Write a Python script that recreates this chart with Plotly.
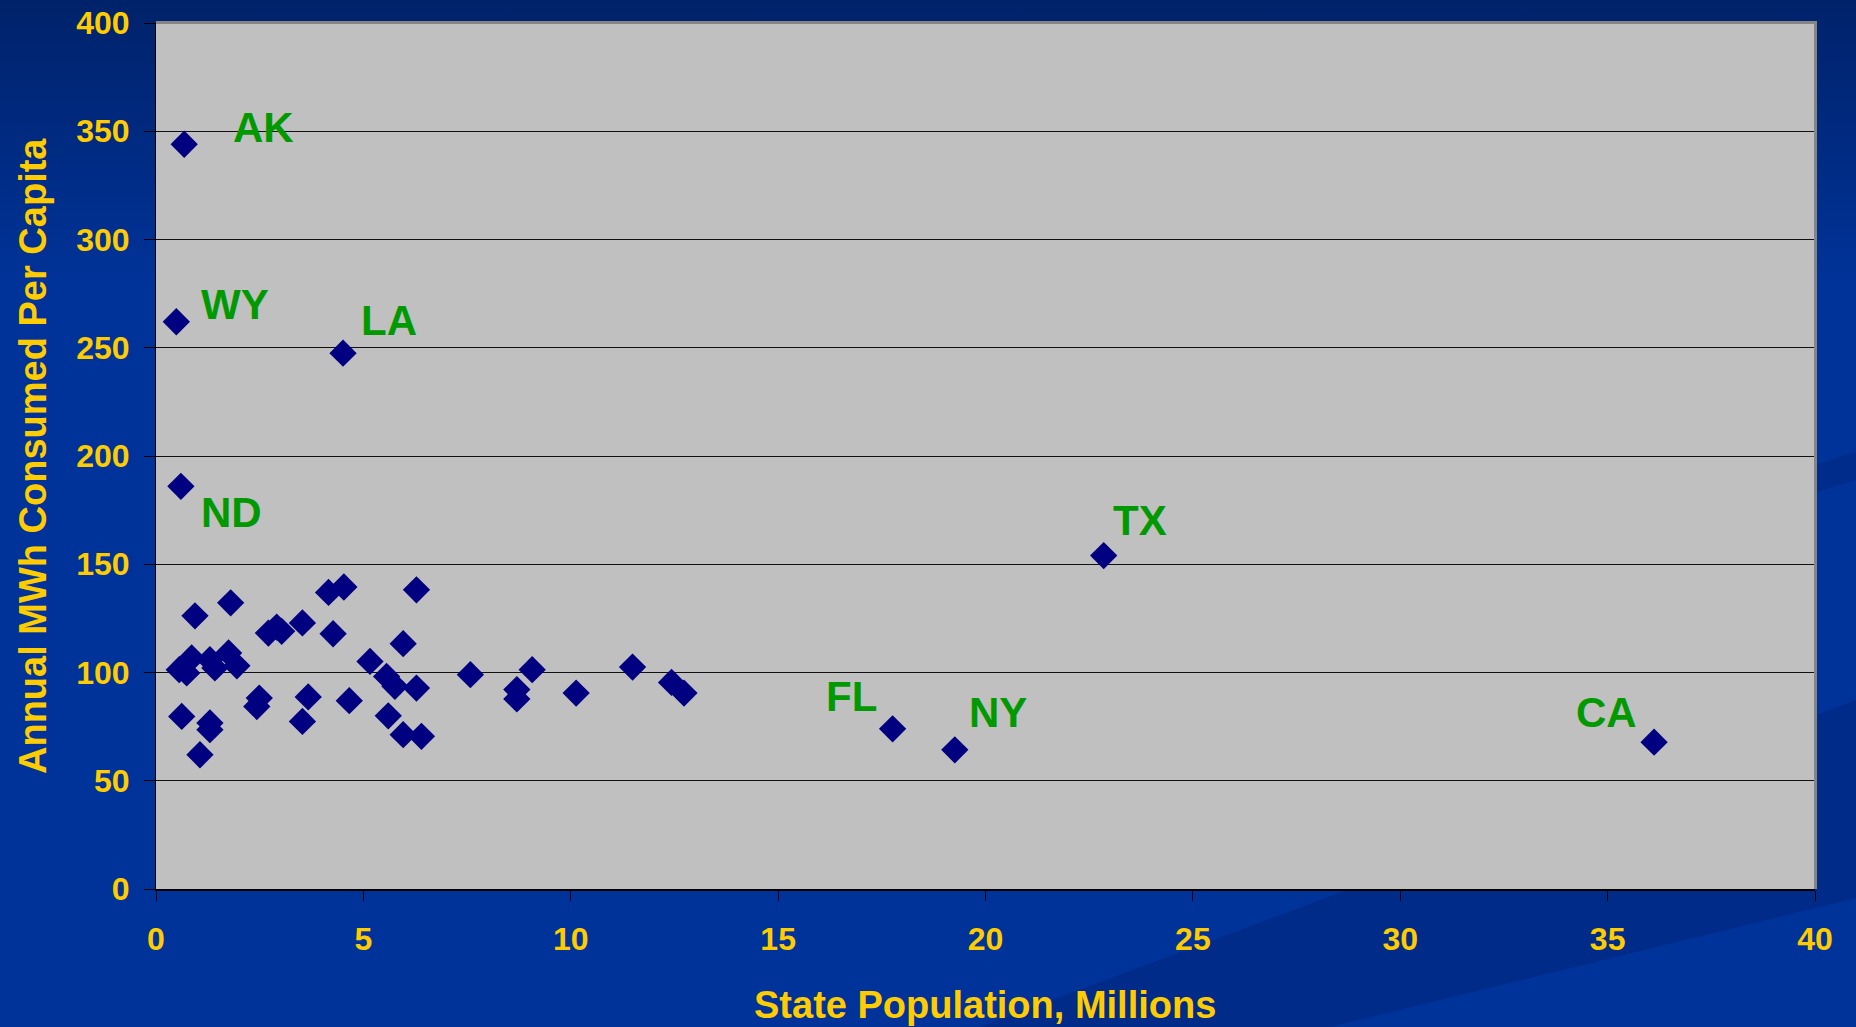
import base64
import plotly.graph_objects as go

# ---- data ----
labeled_states = ["AK", "WY", "LA", "ND", "TX", "FL", "NY", "CA"]
labeled_pop = [0.68, 0.49, 4.51, 0.60, 22.85, 17.76, 19.26, 36.12]
labeled_mwh = [344.0, 262.0, 247.5, 186.0, 154.0, 74.0, 64.3, 67.8]
label_x = [2.60, 1.91, 5.62, 1.83, 23.72, 16.76, 20.31, 34.98]
label_y = [351.6, 270.0, 262.8, 173.8, 170.3, 89.1, 81.7, 81.4]

other_pop = [0.94, 1.80, 0.56, 0.86, 0.74, 1.30, 1.42, 1.75, 1.95, 0.62,
             1.30, 1.30, 1.06, 2.71, 2.91, 3.03, 3.53, 4.16, 4.53, 4.27,
             2.49, 2.43, 3.67, 3.53, 4.66, 5.16, 6.28, 5.96, 5.56, 5.76,
             6.28, 5.60, 5.96, 6.40, 7.58, 8.70, 8.70, 9.07, 10.13, 11.49,
             12.43, 12.73]
other_mwh = [126.2, 132.2, 101.3, 106.7, 99.8, 105.9, 102.1, 109.0, 103.1, 79.7,
             76.7, 73.6, 62.0, 118.2, 121.0, 119.0, 122.9, 137.0, 139.5, 117.9,
             88.2, 84.3, 88.7, 77.4, 87.0, 105.1, 138.2, 113.3, 98.2, 93.6,
             92.8, 80.0, 71.3, 70.5, 99.0, 92.1, 87.8, 101.3, 90.5, 102.5,
             95.4, 90.5]

x_ticks = [0, 5, 10, 15, 20, 25, 30, 35, 40]
y_ticks = [0, 50, 100, 150, 200, 250, 300, 350, 400]

# ---- layout geometry ----
W, H = 1856, 1027
ML, MR, MT, MB = 156, 41, 23, 138
PW, PH = W - ML - MR, H - MT - MB

FONT = "Liberation Sans, Arial, sans-serif"
YELLOW = "#FFCC00"
GREEN = "#009900"
NAVY = "#000080"

# background svg (gradient + diagonal stripes)
svg = f'''<svg xmlns="http://www.w3.org/2000/svg" width="{W}" height="{H}" viewBox="0 0 {W} {H}" preserveAspectRatio="none">
<defs><linearGradient id="g" x1="0" y1="0" x2="0" y2="1">
<stop offset="0" stop-color="#00226A"/><stop offset="0.28" stop-color="#003399"/><stop offset="1" stop-color="#003399"/>
</linearGradient></defs>
<rect width="{W}" height="{H}" fill="url(#g)"/>
<polygon points="980,1027 1856,700 1856,898 1330,1027" fill="#002A84" fill-opacity="0.75"/>
<polygon points="1500,560 1856,452 1856,480 1500,590" fill="#002A84" fill-opacity="0.7"/>
</svg>'''
svg_uri = "data:image/svg+xml;base64," + base64.b64encode(svg.encode()).decode()

fig = go.Figure()
fig.add_trace(go.Scatter(
    x=labeled_pop + other_pop, y=labeled_mwh + other_mwh,
    mode="markers",
    marker=dict(symbol="diamond", size=21, color=NAVY, line=dict(width=0)),
    showlegend=False, hoverinfo="x+y"))

annotations = []
for s, lx, ly in zip(labeled_states, label_x, label_y):
    annotations.append(dict(x=lx, y=ly, xref="x", yref="y", text=s, showarrow=False,
                            font=dict(family=FONT, size=42, color=GREEN, weight="bold"),
                            xanchor="center", yanchor="middle"))
annotations.append(dict(x=(985 - ML) / PW, y=-(1005 - MT - PH) / PH, xref="paper", yref="paper",
                        text="State Population, Millions", showarrow=False,
                        font=dict(family=FONT, size=38, color=YELLOW, weight="bold"),
                        xanchor="center", yanchor="middle"))
annotations.append(dict(x=-(ML - 33) / PW, y=1 - (456 - MT) / PH, xref="paper", yref="paper",
                        text="Annual MWh Consumed Per Capita", showarrow=False, textangle=-90,
                        font=dict(family=FONT, size=38, color=YELLOW, weight="bold"),
                        xanchor="center", yanchor="middle"))

shapes = [
    dict(type="rect", xref="paper", yref="paper", x0=0, x1=1, y0=0, y1=1,
         fillcolor="#C0C0C0", line=dict(width=0), layer="below"),
    dict(type="line", xref="paper", yref="paper", x0=0, x1=1 + 2 / PW, y0=1 + 0.5 / PH, y1=1 + 0.5 / PH,
         line=dict(color="#858585", width=3), layer="above"),
    dict(type="line", xref="paper", yref="paper", x0=1 + 0.5 / PW, x1=1 + 0.5 / PW, y0=0, y1=1,
         line=dict(color="#858585", width=3), layer="above"),
]

fig.update_layout(
    width=W, height=H,
    margin=dict(l=ML, r=MR, t=MT, b=MB, autoexpand=False),
    paper_bgcolor="#003399", plot_bgcolor="rgba(0,0,0,0)",
    images=[dict(source=svg_uri, xref="paper", yref="paper",
                 x=-ML / PW, y=1 + MT / PH, sizex=W / PW, sizey=H / PH,
                 xanchor="left", yanchor="top", sizing="stretch", layer="below")],
    shapes=shapes, annotations=annotations,
    xaxis=dict(range=[0, 40], tickvals=x_ticks, ticktext=[str(v) for v in x_ticks],
               showgrid=False, zeroline=False, showline=True, linecolor="#000000", linewidth=2,
               ticks="outside", ticklen=10, tickcolor="#000000", tickwidth=1,
               tickfont=dict(family=FONT, size=32, color=YELLOW, weight="bold"),
               ticklabelstandoff=11, fixedrange=True),
    yaxis=dict(range=[0, 400], tickvals=y_ticks, ticktext=[str(v) for v in y_ticks],
               showgrid=True, gridcolor="#111111", gridwidth=1, zeroline=False,
               showline=True, linecolor="#000000", linewidth=1,
               ticks="outside", ticklen=11, tickcolor="#000000", tickwidth=1,
               tickfont=dict(family=FONT, size=32, color=YELLOW, weight="bold"),
               ticklabelstandoff=8, fixedrange=True),
)

fig.write_html("out.html", config={"displayModeBar": False, "staticPlot": True},
               post_script="document.body.style.margin='0';document.body.style.overflow='hidden';document.body.style.background='#003399';")
